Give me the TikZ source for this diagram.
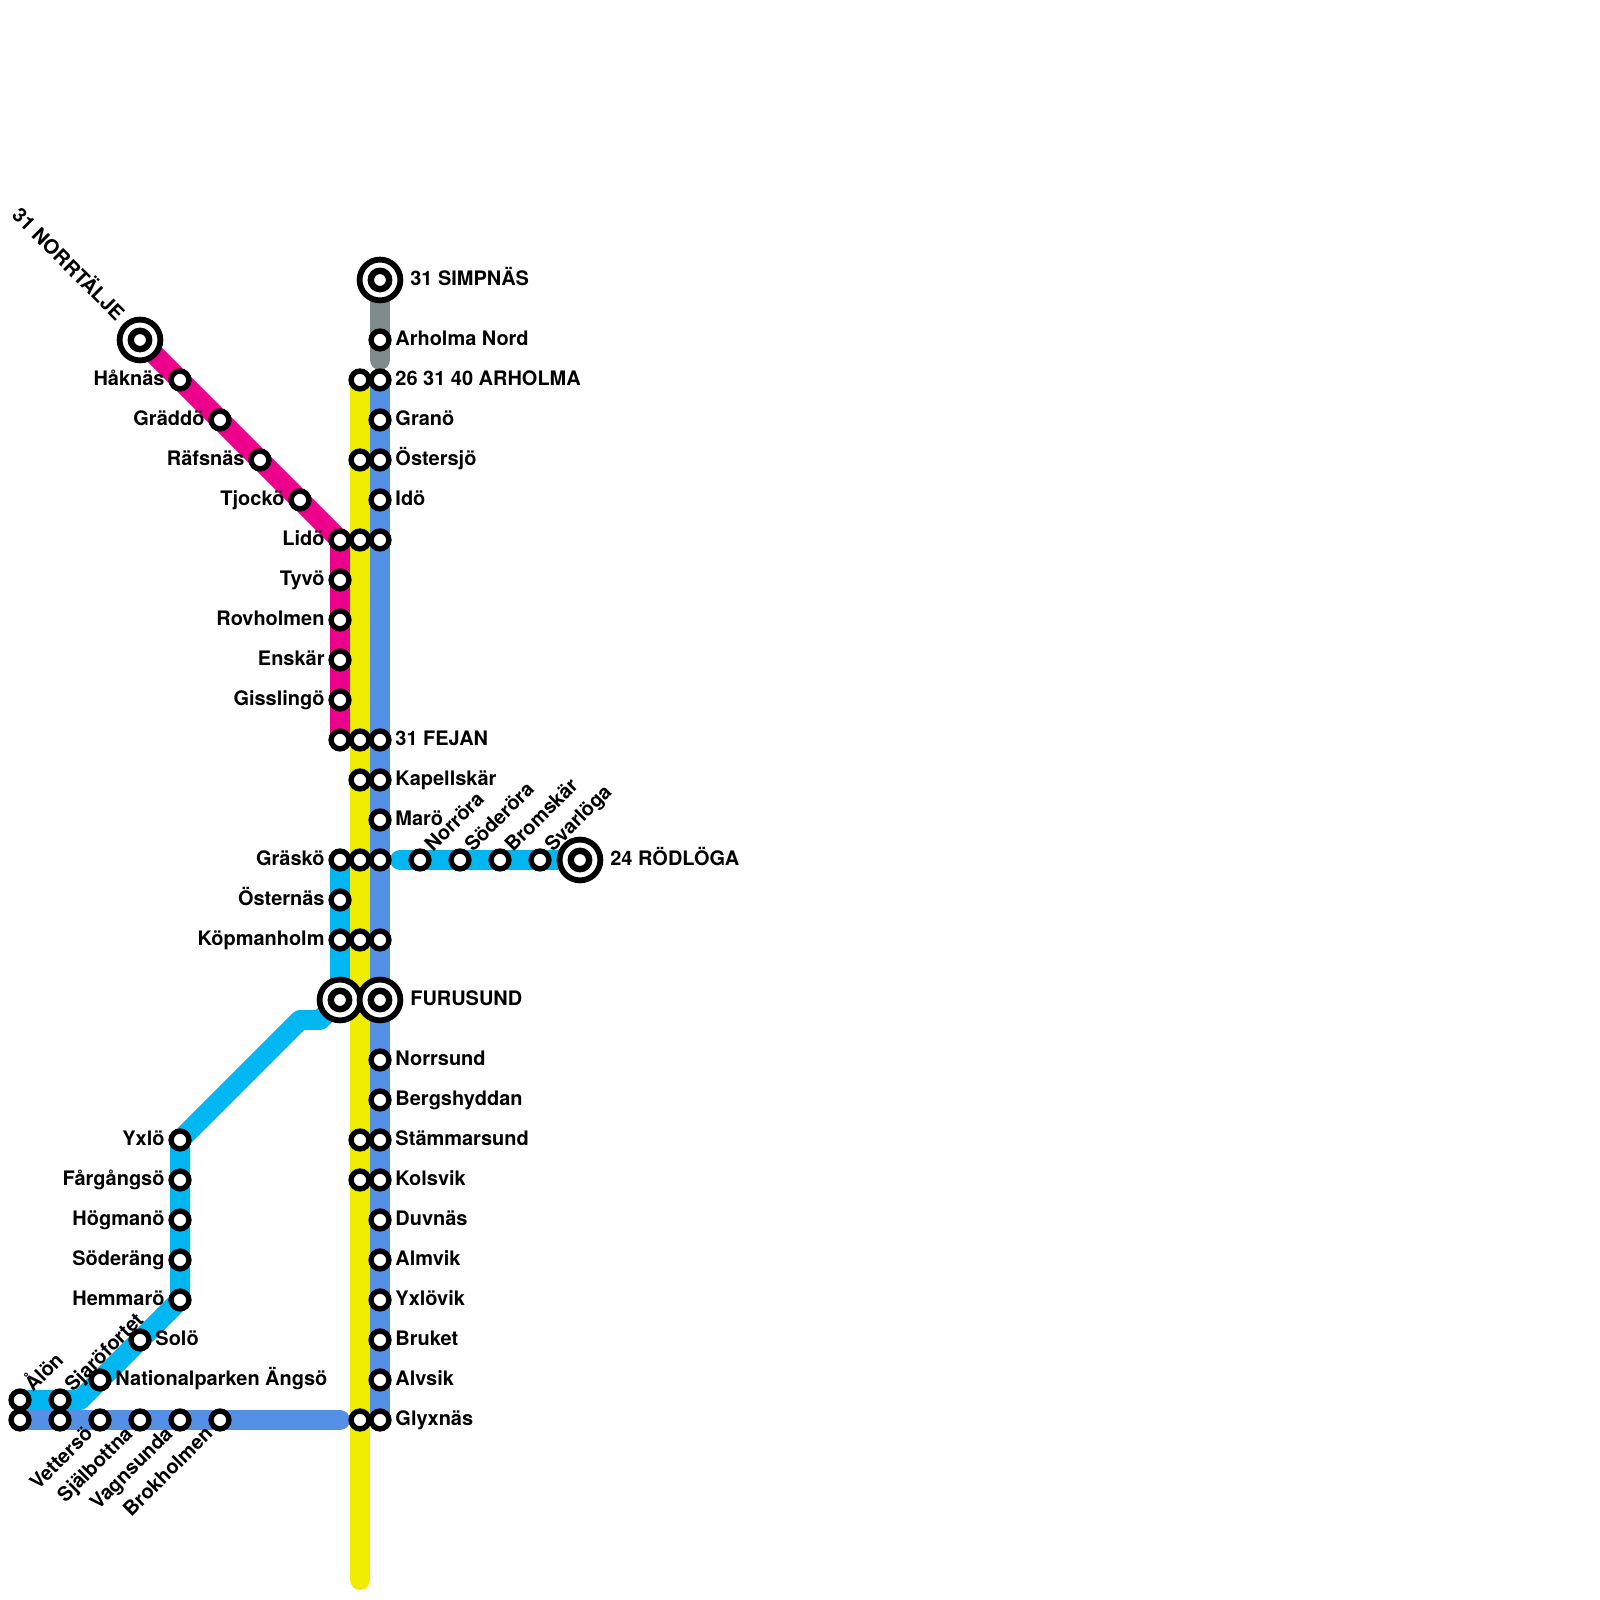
\documentclass[tikz,border=0pt]{standalone}
\usepackage{fontspec}
\setmainfont{TeX Gyre Heros}
\usetikzlibrary{backgrounds}
\definecolor{linepink}{HTML}{EC008C}
\definecolor{lineyellow}{HTML}{F0EC00}
\definecolor{lineblue}{HTML}{5490E5}
\definecolor{linecyan}{HTML}{00B7F2}
\definecolor{linegrey}{HTML}{7F8C8D}
\tikzset{
  lin/.style={line width=5mm, line cap=round, line join=round},
  stn/.style={draw, circle, fill=white, line width=1.35mm, minimum size=4.45mm, inner sep=0pt},
  term/.style={draw, circle, fill=white, line width=1.45mm, minimum size=10.2mm, inner sep=0pt},
  termc/.style={draw, circle, fill=white, line width=1.6mm, minimum size=4.6mm, inner sep=0pt},
  lab/.style={font=\fontsize{14.2}{16}\selectfont\bfseries, inner sep=0pt},
  lr/.style={lab, anchor=base west, xshift=0.9mm, yshift=-1.35mm},
  ll/.style={lab, anchor=base east, xshift=-0.9mm, yshift=-1.35mm},
  lt/.style={lab, anchor=base west, xshift=1.7mm, yshift=-1.35mm},
  lup/.style={lab, xshift=3.25mm, yshift=1.75mm, rotate=45, anchor=base west},
  ldn/.style={lab, xshift=-1.5mm, yshift=-3.75mm, rotate=45, anchor=base east},
}
\begin{document}
\begin{tikzpicture}[x=1cm,y=1cm]
\useasboundingbox (0,0) rectangle (40,40);
% free line ends
\coordinate (yellowend) at (9,0.5);
\coordinate (greyend) at (9.5,31);
\coordinate (blueend) at (8.5,4.5);
\coordinate (cyanstart) at (10,18.5);
\coordinate (cyanbendA) at (8,14.5);
\coordinate (cyanbendB) at (7.5,14.5);
\coordinate (cyanbendC) at (2,5);
% line 31 north
\node[term] (simpnas) at (9.5,33) {};
\node[termc] (simpnasC) at (simpnas) {};
\node[lt] (simpnasL) at (simpnas.east) {31 SIMPNÄS};
\node[stn] (arholmanord) at (9.5,31.5) {};
\node[lr] (arholmanordL) at (arholmanord.east) {Arholma Nord};
\node[stn] (arholmaY) at (9,30.5) {};
\node[stn] (arholma) at (9.5,30.5) {};
\node[lr] (arholmaL) at (arholma.east) {26 31 40 ARHOLMA};
\node[stn] (grano) at (9.5,29.5) {};
\node[lr] (granoL) at (grano.east) {Granö};
\node[stn] (ostersjoY) at (9,28.5) {};
\node[stn] (ostersjo) at (9.5,28.5) {};
\node[lr] (ostersjoL) at (ostersjo.east) {Östersjö};
\node[stn] (ido) at (9.5,27.5) {};
\node[lr] (idoL) at (ido.east) {Idö};
% pink branch
\node[term] (norrtalje) at (3.5,31.5) {};
\node[termc] (norrtaljeC) at (norrtalje) {};
\node[lab, xshift=-6mm, yshift=4.5mm, rotate=-45, anchor=base east] (norrtaljeL) at (norrtalje) {31 NORRTÄLJE};
\node[stn] (haknas) at (4.5,30.5) {};
\node[ll] (haknasL) at (haknas.west) {Håknäs};
\node[stn] (graddo) at (5.5,29.5) {};
\node[ll] (graddoL) at (graddo.west) {Gräddö};
\node[stn] (rafsnas) at (6.5,28.5) {};
\node[ll] (rafsnasL) at (rafsnas.west) {Räfsnäs};
\node[stn] (tjocko) at (7.5,27.5) {};
\node[ll] (tjockoL) at (tjocko.west) {Tjockö};
\node[stn] (lido) at (8.5,26.5) {};
\node[ll] (lidoL) at (lido.west) {Lidö};
\node[stn] (lidoY) at (9,26.5) {};
\node[stn] (lidoB) at (9.5,26.5) {};
\node[stn] (tyvo) at (8.5,25.5) {};
\node[ll] (tyvoL) at (tyvo.west) {Tyvö};
\node[stn] (rovholmen) at (8.5,24.5) {};
\node[ll] (rovholmenL) at (rovholmen.west) {Rovholmen};
\node[stn] (enskar) at (8.5,23.5) {};
\node[ll] (enskarL) at (enskar.west) {Enskär};
\node[stn] (gisslingo) at (8.5,22.5) {};
\node[ll] (gisslingoL) at (gisslingo.west) {Gisslingö};
\node[stn] (fejanP) at (8.5,21.5) {};
\node[stn] (fejanY) at (9,21.5) {};
\node[stn] (fejan) at (9.5,21.5) {};
\node[lr] (fejanL) at (fejan.east) {31 FEJAN};
\node[stn] (kapellskarY) at (9,20.5) {};
\node[stn] (kapellskar) at (9.5,20.5) {};
\node[lr] (kapellskarL) at (kapellskar.east) {Kapellskär};
\node[stn] (maro) at (9.5,19.5) {};
\node[lr] (maroL) at (maro.east) {Marö};
% east branch
\node[stn] (grasko) at (8.5,18.5) {};
\node[ll] (graskoL) at (grasko.west) {Gräskö};
\node[stn] (graskoY) at (9,18.5) {};
\node[stn] (graskoB) at (9.5,18.5) {};
\node[stn] (norrora) at (10.5,18.5) {};
\node[lup] (norroraL) at (norrora) {Norröra};
\node[stn] (soderora) at (11.5,18.5) {};
\node[lup] (soderoraL) at (soderora) {Söderöra};
\node[stn] (bromskar) at (12.5,18.5) {};
\node[lup] (bromskarL) at (bromskar) {Bromskär};
\node[stn] (svarloga) at (13.5,18.5) {};
\node[lup] (svarlogaL) at (svarloga) {Svarlöga};
\node[term] (rodloga) at (14.5,18.5) {};
\node[termc] (rodlogaC) at (rodloga) {};
\node[lt] (rodlogaL) at (rodloga.east) {24 RÖDLÖGA};
\node[stn] (osternas) at (8.5,17.5) {};
\node[ll] (osternasL) at (osternas.west) {Östernäs};
\node[stn] (kopmanholm) at (8.5,16.5) {};
\node[ll] (kopmanholmL) at (kopmanholm.west) {Köpmanholm};
\node[stn] (kopmanholmY) at (9,16.5) {};
\node[stn] (kopmanholmB) at (9.5,16.5) {};
% furusund
\node[term] (furusundC) at (8.5,15) {};
\node[termc] (furusundCC) at (furusundC) {};
\node[term] (furusund) at (9.5,15) {};
\node[termc] (furusundBC) at (furusund) {};
\node[lt] (furusundL) at (furusund.east) {FURUSUND};
\node[stn] (norrsund) at (9.5,13.5) {};
\node[lr] (norrsundL) at (norrsund.east) {Norrsund};
\node[stn] (bergshyddan) at (9.5,12.5) {};
\node[lr] (bergshyddanL) at (bergshyddan.east) {Bergshyddan};
\node[stn] (stammarsundY) at (9,11.5) {};
\node[stn] (stammarsund) at (9.5,11.5) {};
\node[lr] (stammarsundL) at (stammarsund.east) {Stämmarsund};
\node[stn] (kolsvikY) at (9,10.5) {};
\node[stn] (kolsvik) at (9.5,10.5) {};
\node[lr] (kolsvikL) at (kolsvik.east) {Kolsvik};
\node[stn] (duvnas) at (9.5,9.5) {};
\node[lr] (duvnasL) at (duvnas.east) {Duvnäs};
\node[stn] (almvik) at (9.5,8.5) {};
\node[lr] (almvikL) at (almvik.east) {Almvik};
\node[stn] (yxlovik) at (9.5,7.5) {};
\node[lr] (yxlovikL) at (yxlovik.east) {Yxlövik};
\node[stn] (bruket) at (9.5,6.5) {};
\node[lr] (bruketL) at (bruket.east) {Bruket};
\node[stn] (alvsik) at (9.5,5.5) {};
\node[lr] (alvsikL) at (alvsik.east) {Alvsik};
\node[stn] (glyxnasY) at (9,4.5) {};
\node[stn] (glyxnas) at (9.5,4.5) {};
\node[lr] (glyxnasL) at (glyxnas.east) {Glyxnäs};
% south west branch
\node[stn] (yxlo) at (4.5,11.5) {};
\node[ll] (yxloL) at (yxlo.west) {Yxlö};
\node[stn] (fargangso) at (4.5,10.5) {};
\node[ll] (fargangsoL) at (fargangso.west) {Fårgångsö};
\node[stn] (hogmano) at (4.5,9.5) {};
\node[ll] (hogmanoL) at (hogmano.west) {Högmanö};
\node[stn] (soderang) at (4.5,8.5) {};
\node[ll] (soderangL) at (soderang.west) {Söderäng};
\node[stn] (hemmaro) at (4.5,7.5) {};
\node[ll] (hemmaroL) at (hemmaro.west) {Hemmarö};
\node[stn] (solo) at (3.5,6.5) {};
\node[lr] (soloL) at (solo.east) {Solö};
\node[stn] (angso) at (2.5,5.5) {};
\node[lr] (angsoL) at (angso.east) {Nationalparken Ängsö};
\node[stn] (alon) at (0.5,5) {};
\node[lup] (alonL) at (alon) {Ålön};
\node[stn] (sjarofortet) at (1.5,5) {};
\node[lup] (sjarofortetL) at (sjarofortet) {Sjaröfortet};
\node[stn] (westA) at (0.5,4.5) {};
\node[stn] (westB) at (1.5,4.5) {};
\node[stn] (vetterso) at (2.5,4.5) {};
\node[ldn] (vettersoL) at (vetterso) {Vettersö};
\node[stn] (sjalbottna) at (3.5,4.5) {};
\node[ldn] (sjalbottnaL) at (sjalbottna) {Själbottna};
\node[stn] (vagnsunda) at (4.5,4.5) {};
\node[ldn] (vagnsundaL) at (vagnsunda) {Vagnsunda};
\node[stn] (brokholmen) at (5.5,4.5) {};
\node[ldn] (brokholmenL) at (brokholmen) {Brokholmen};
\begin{scope}[on background layer]
\draw[lin, linegrey] (simpnas.center) -- (greyend);
\draw[lin, linepink] (norrtalje.center) -- (lido.center) -- (fejanP.center);
\draw[lin, linecyan] (cyanstart) -- (rodloga.center);
\draw[lin, linecyan] (grasko.center) -- (furusundC.center) -- (cyanbendA) -- (cyanbendB) -- (yxlo.center) -- (hemmaro.center) -- (cyanbendC) -- (alon.center);
\draw[lin, lineblue] (arholma.center) -- (glyxnas.center);
\draw[lin, lineblue] (westA.center) -- (blueend);
\draw[lin, lineyellow] (arholmaY.center) -- (yellowend);
\end{scope}
\end{tikzpicture}
\end{document}
